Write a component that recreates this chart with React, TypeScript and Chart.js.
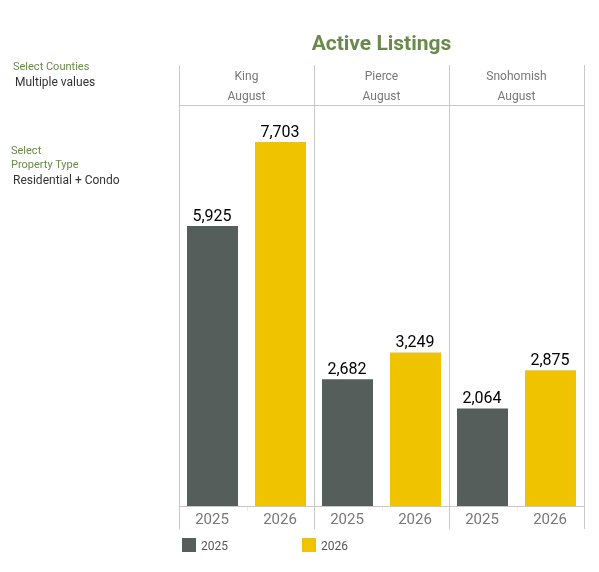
import { Chart, registerables } from "chart.js";
import { useEffect, useRef } from "react";

Chart.register(...registerables);

const counties = ["King", "Pierce", "Snohomish"];
const month = "August";
const years = ["2025", "2026"];
const values2025 = [5925, 2682, 2064];
const values2026 = [7703, 3249, 2875];
const yMax = 8487;

const GREY = "#555e5b";
const GOLD = "#f0c300";
const GREEN = "#6a8a4b";
const LINE = "#c8c8c8";
const TEXT = "#777777";
const FONT = "Roboto";

const panelPlugin = {
  id: "panels",
  afterDatasetsDraw(chart: any) {
    const { ctx, chartArea, scales } = chart;
    const x = scales.x;
    const half = (x.getPixelForValue(1) - x.getPixelForValue(0)) / 2;
    ctx.save();

    ctx.strokeStyle = LINE;
    ctx.lineWidth = 1;
    ctx.beginPath();
    ctx.moveTo(chartArea.left, 105.5);
    ctx.lineTo(chartArea.right + 1, 105.5);
    ctx.moveTo(chartArea.left, 506.5);
    ctx.lineTo(chartArea.right + 1, 506.5);
    counties.forEach((_, i) => {
      const left = Math.round(x.getPixelForValue(i) - half) + 0.5;
      ctx.moveTo(left, 65);
      ctx.lineTo(left, 529);
    });
    const end = Math.round(chartArea.right) + 0.5;
    ctx.moveTo(end, 65);
    ctx.lineTo(end, 529);
    ctx.stroke();

    // faint tick between the two years of a panel
    ctx.strokeStyle = "#ececec";
    ctx.beginPath();
    counties.forEach((_, i) => {
      const mid = Math.round(x.getPixelForValue(i)) + 0.5;
      ctx.moveTo(mid, 507);
      ctx.lineTo(mid, 511);
    });
    ctx.stroke();

    ctx.textAlign = "center";
    ctx.textBaseline = "alphabetic";
    ctx.fillStyle = TEXT;
    ctx.font = `12px ${FONT}`;
    counties.forEach((name, i) => {
      const cx = x.getPixelForValue(i);
      ctx.fillText(name, cx, 80);
      ctx.fillText(month, cx, 100);
    });

    chart.data.datasets.forEach((ds: any, d: number) => {
      chart.getDatasetMeta(d).data.forEach((bar: any, i: number) => {
        ctx.fillStyle = "#000000";
        ctx.font = `16px ${FONT}`;
        ctx.fillText(ds.data[i].toLocaleString("en-US"), bar.x - 0.5, bar.y - 5);
        ctx.fillStyle = TEXT;
        ctx.font = `15px ${FONT}`;
        ctx.fillText(years[d], bar.x - 0.5, 524);
      });
    });
    ctx.restore();
  },
};

const label = (left: number, top: number, color: string, fontSize = 11) => ({
  position: "absolute" as const,
  left,
  top,
  color,
  fontSize,
  lineHeight: "14px",
  whiteSpace: "nowrap" as const,
});

const App = () => {
  const chartRef = useRef<HTMLCanvasElement>(null);

  useEffect(() => {
    if (chartRef.current) {
      const chart = new Chart(chartRef.current, {
        type: "bar",
        data: {
          labels: counties,
          datasets: [
            { label: years[0], data: values2025, backgroundColor: GREY },
            { label: years[1], data: values2026, backgroundColor: GOLD },
          ],
        },
        options: {
          animation: false,
          responsive: false,
          devicePixelRatio: 1,
          layout: { padding: { left: 179, right: 15, top: 105, bottom: 66 } },
          datasets: { bar: { barPercentage: 0.75, categoryPercentage: 1.0074 } },
          plugins: { legend: { display: false }, tooltip: { enabled: false } },
          scales: {
            x: { display: false },
            y: { display: false, min: 0, max: yMax },
          },
        },
        plugins: [panelPlugin],
      });
      return () => chart.destroy();
    }
  }, []);

  return (
    <div style={{ position: "absolute", left: 0, top: 0, width: 599, height: 572, background: "#fff", fontFamily: FONT, overflow: "hidden" }}>
      <canvas ref={chartRef} width={599} height={572} style={{ position: "absolute", left: 0, top: 0 }}></canvas>
      <div style={{ position: "absolute", left: 179, width: 405, top: 30, textAlign: "center", color: GREEN, fontSize: 21, fontWeight: 700, lineHeight: "26px" }}>
        Active Listings
      </div>
      <div style={label(13, 60, GREEN)}>Select Counties</div>
      <div style={label(15, 75, "#333333", 12)}>Multiple values</div>
      <div style={label(11, 144, GREEN)}>Select</div>
      <div style={label(11, 158, GREEN)}>Property Type</div>
      <div style={label(13, 173, "#333333", 12)}>Residential + Condo</div>
      <div style={{ position: "absolute", left: 182, top: 538, width: 14, height: 14, background: GREY }}></div>
      <div style={label(201, 539, "#555555", 12)}>{years[0]}</div>
      <div style={{ position: "absolute", left: 302, top: 538, width: 14, height: 14, background: GOLD }}></div>
      <div style={label(321, 539, "#555555", 12)}>{years[1]}</div>
    </div>
  );
};

export default App;
